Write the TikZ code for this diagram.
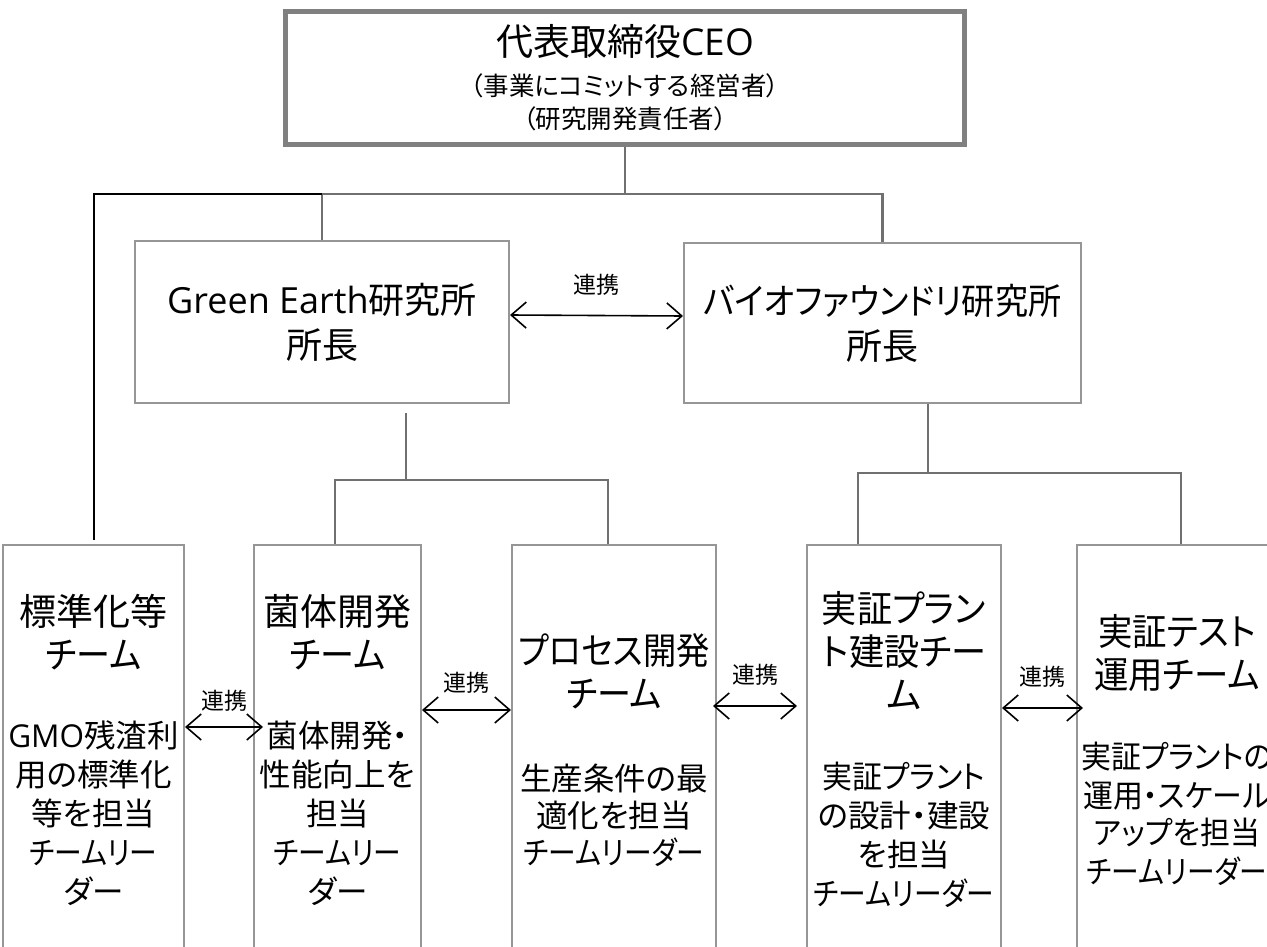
\documentclass[tikz,border=0pt]{standalone}
\usepackage{fontspec}
\setmainfont{Noto Sans CJK JP}[RawFeature=+palt]
\newfontfamily\latin{Open Sans}
\usetikzlibrary{arrows.meta}
\definecolor{boxgray}{RGB}{150,150,150}
\definecolor{linegray}{RGB}{112,112,112}
\definecolor{ceogray}{RGB}{128,128,128}
\newcommand\Bf{\fontsize{37}{43}\selectfont}
\newcommand\Sf{\fontsize{31.5}{39}\selectfont}
\newcommand\Lf{\fontsize{23}{26}\selectfont}
\newcommand\sx[2][0.88]{\scalebox{#1}[1]{#2}}
\begin{document}
\begin{tikzpicture}[x=1pt,y=-1pt,
  box/.style={draw=boxgray,line width=2pt,fill=white,inner sep=0pt,align=center},
  team/.style={box,font=\Sf,minimum height=410},
  conn/.style={draw=linegray,line width=2.2pt},
  blk/.style={draw=black,line width=2pt},
  arr/.style={draw=black,line width=1.6pt,{Straight Barb[length=15pt,width=26pt]}-{Straight Barb[length=15pt,width=26pt]}},
  lab/.style={font=\Lf,inner sep=0pt}]
\useasboundingbox (0,0) rectangle (1267,947);
\clip (0,0) rectangle (1267,947);

% CEO
\node[draw=ceogray,line width=5pt,minimum width=679,minimum height=133,inner sep=0pt,align=center,
      font=\fontsize{25.5}{33}\selectfont] (ceo) at (625,78)
  {\Bf 代表取締役{\latin CEO}\\[7pt]（事業にコミットする経営者）\\（研究開発責任者）};

% institutes
\node[box,minimum width=374,minimum height=162,font=\fontsize{36}{45}\selectfont] (ge) at (322,322)
  {{\latin Green Earth}研究所\\所長};
\node[box,minimum width=397,minimum height=160,font=\fontsize{36}{45}\selectfont] (bio) at (882.5,323)
  {\sx[0.92]{バイオファウンドリ研究所}\\所長};

% teams
\node[team,minimum width=181] (std) at (93.5,750)
  {\Bf 標準化等\\[4pt]\Bf \sx[0.92]{チーム}\\[40pt]{\latin GMO}残渣利\\用の標準化\\等を担当\\\sx{チームリー}\\ダー};
\node[team,minimum width=167] (kin) at (337.5,750)
  {\Bf 菌体開発\\[4pt]\Bf \sx[0.92]{チーム}\\[40pt]菌体開発・\\性能向上を\\担当\\\sx{チームリー}\\ダー};
\node[team,minimum width=204] (proc) at (614,750)
  {\Bf \sx[0.9]{プロセス開発}\\[4pt]\Bf \sx[0.92]{チーム}\\[44pt]生産条件の最\\[-2pt]適化を担当\\[-2pt]\sx{チームリーダー}};
\node[team,minimum width=194] (pl) at (904,750)
  {\Bf \sx[0.95]{実証プラン}\\[4pt]\Bf \sx[0.95]{ト建設チー}\\[4pt]\Bf ム\\[41pt]\sx[0.95]{実証プラント}\\の設計・建設\\を担当\\\sx{チームリーダー}};
\node[team,minimum width=200] (test) at (1177,750)
  {\Bf \sx[0.93]{実証テスト}\\[4pt]\Bf \sx[0.93]{運用チーム}\\[41pt]\sx[0.95]{実証プラントの}\\\sx[0.95]{運用・スケール}\\[-2pt]\sx[0.95]{アップを担当}\\\sx{チームリーダー}};

% connectors top
\draw[conn] (ge.north) -- ++(0,-46) coordinate (gtop) -| (bio.north);
\draw[conn] (ceo.south) -- (ceo.south |- gtop);
\draw[blk] (gtop) -| ([yshift=4pt]std.north);

% connectors from institutes
\draw[conn] ([xshift=84pt,yshift=-9pt]ge.south) -- ++(0,67) coordinate (gj);
\draw[conn] ([xshift=-2.5pt]kin.north) |- (gj) -| ([xshift=-6pt]proc.north);
\draw[conn] ([xshift=45.5pt]bio.south) -- ++(0,69) coordinate (bj);
\draw[conn] ([xshift=-46pt]pl.north) |- (bj) -| ([xshift=4pt]test.north);

% cooperation arrows
\draw[arr] ([yshift=7pt]ge.east) -- node[lab,above=19pt]{連携} ([yshift=7pt]bio.west);
\draw[arr] ([yshift=23pt]std.east) -- node[lab,above=15pt]{連携} ([xshift=10pt,yshift=23pt]kin.west);
\draw[arr] ([yshift=40pt]kin.east) -- node[lab,above=16pt]{連携} ([yshift=40pt]proc.west);
\draw[arr] ([xshift=-4pt,yshift=44pt]proc.east) -- node[lab,above=20pt]{連携} ([xshift=-9pt,yshift=44pt]pl.west);
\draw[arr] ([yshift=42pt]pl.east) -- node[lab,above=20pt]{連携} ([xshift=7pt,yshift=42pt]test.west);
\end{tikzpicture}
\end{document}
